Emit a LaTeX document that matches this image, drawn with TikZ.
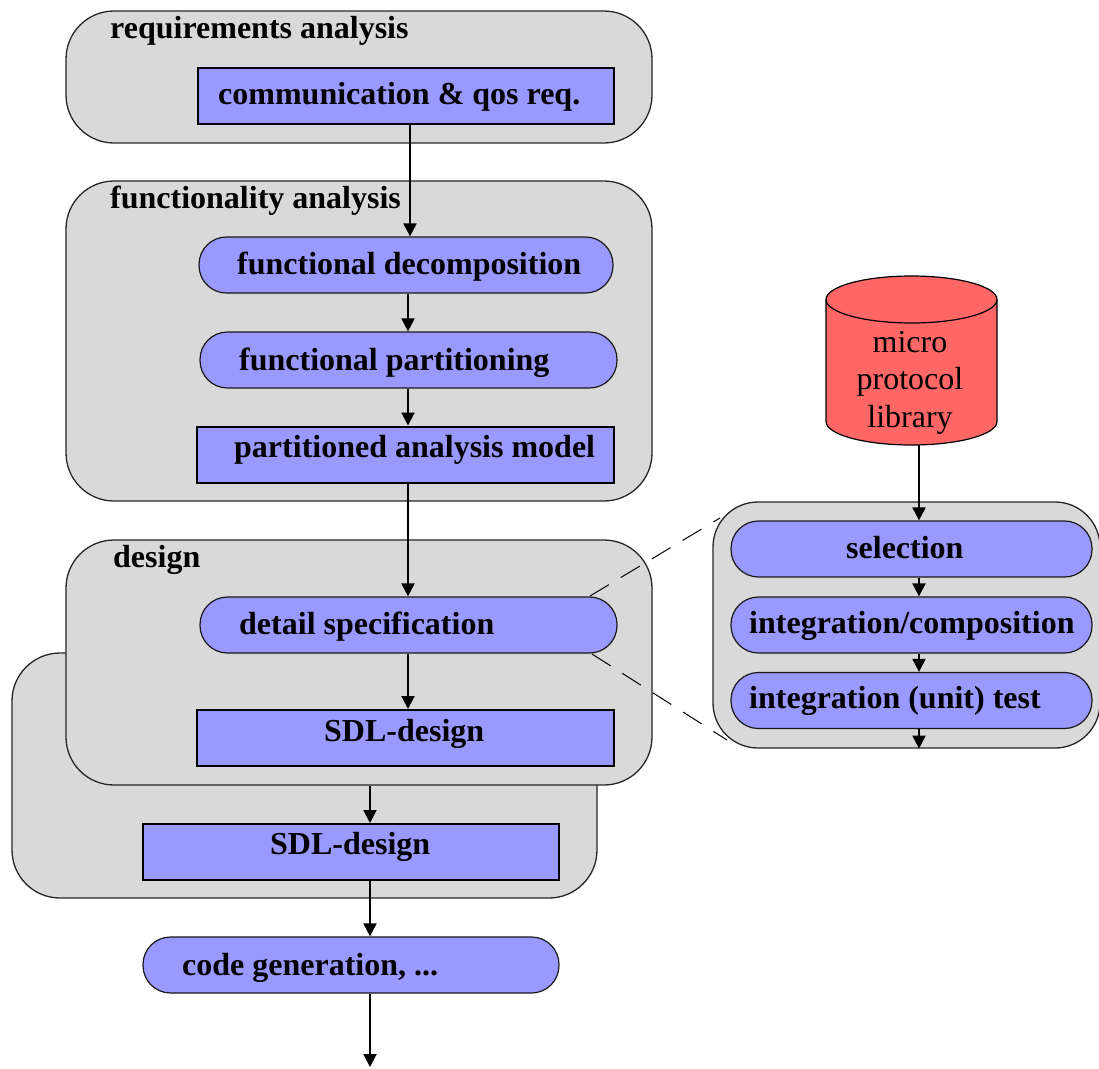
\documentclass[tikz,border=0pt]{standalone}
\usepackage{fontspec}
\setmainfont{Liberation Serif}
\usetikzlibrary{arrows.meta}
\definecolor{boxgray}{RGB}{217,217,217}
\definecolor{stepblue}{RGB}{153,153,255}
\definecolor{libred}{RGB}{255,102,102}
\begin{document}
\begin{tikzpicture}[x=1pt,y=1pt,yscale=-1,
  phase/.style={draw=black!85,line width=1.3pt,fill=boxgray,rounded corners=48pt,inner sep=0pt},
  rectstep/.style={draw=black,line width=2pt,fill=stepblue,inner sep=0pt,minimum height=56pt},
  pillstep/.style={draw=black!90,line width=1.2pt,fill=stepblue,rounded corners=27.5pt,inner sep=0pt,minimum height=56pt},
  lbl/.style={anchor=base west,inner sep=0pt,font=\fontsize{32}{37}\selectfont\bfseries},
  libtxt/.style={anchor=base,inner sep=0pt,font=\fontsize{32}{37}\selectfont},
  flow/.style={line width=2pt,-{Triangle[width=13pt,length=13pt]}},
  zoomline/.style={line width=1pt,dash pattern=on 22pt off 14pt}]
\useasboundingbox (0,0) rectangle (1099,1068);

% requirements analysis
\node[phase,minimum width=586pt,minimum height=132pt] (req) at (359,77) {};
\node[lbl] (treq) at (110,38) {requirements analysis};
\node[rectstep,minimum width=416pt] (comm) at (405.5,95.5) {};
\node[lbl] (tcomm) at (218,104) {communication \& qos req.};

% functionality analysis
\node[phase,minimum width=586pt,minimum height=320pt] (func) at (359,341) {};
\node[lbl] (tfunc) at (110,208) {functionality analysis};
\node[pillstep,minimum width=414pt] (fdec) at (406,265) {};
\node[lbl] (tfdec) at (237,274) {functional decomposition};
\node[pillstep,minimum width=417pt] (fpart) at (408.5,360) {};
\node[lbl] (tfpart) at (239,370) {functional partitioning};
\node[rectstep,minimum width=417pt] (pam) at (405.5,454.5) {};
\node[lbl] (tpam) at (234,457) {partitioned analysis model};

% design (back copy)
\node[phase,minimum width=585pt,minimum height=245pt] (back) at (304.5,775.5) {};
\node[rectstep,minimum width=416pt] (sdlb) at (351,852) {};
\node[lbl] (tsdlb) at (270,854) {SDL-design};

% design (front)
\node[phase,minimum width=586pt,minimum height=245pt] (design) at (359,662.5) {};
\node[lbl] (tdesign) at (113,567) {design};
\node[pillstep,minimum width=417pt] (detail) at (408.5,625) {};
\node[lbl] (tdetail) at (239,634) {detail specification};
\node[rectstep,minimum width=417pt] (sdlf) at (405.5,738) {};
\node[lbl] (tsdlf) at (324,741) {SDL-design};

% code generation
\node[pillstep,minimum width=416pt] (code) at (351,965) {};
\node[lbl] (tcode) at (182,975) {code generation, ...};
\coordinate (end) at (370,1067);

% micro protocol library (cylinder)
\fill[libred,draw=black,line width=1.2pt] (826,299.5) -- (826,421.5)
  arc[start angle=180,end angle=0,x radius=85.5,y radius=23.5] -- (997,299.5)
  arc[start angle=0,end angle=-180,x radius=85.5,y radius=23.5] -- cycle;
\draw[line width=1.2pt] (826,299.5) arc[start angle=180,end angle=0,x radius=85.5,y radius=23.5];
\coordinate (libbot) at (919,445);
\node[libtxt] (tl1) at (910,352) {micro};
\node[libtxt] (tl2) at (910,389) {protocol};
\node[libtxt] (tl3) at (910,427) {library};

% detail container
\node[phase,rounded corners=45pt,minimum width=387pt,minimum height=246pt] (cont) at (906.5,625) {};
\node[pillstep,minimum width=361pt] (sel) at (911.5,549) {};
\node[lbl] (tsel) at (846,558) {selection};
\node[pillstep,minimum width=361pt] (integ) at (911.5,625) {};
\node[lbl] (tinteg) at (749,633) {integration/composition};
\node[pillstep,minimum width=361pt] (unit) at (911.5,700.5) {};
\node[lbl] (tunit) at (749,708) {integration (unit) test};

% zoom lines
\coordinate (za) at (590,596);
\coordinate (zb) at (720,518);
\coordinate (zc) at (592,654);
\coordinate (zd) at (727,740);
\draw[zoomline] (za) -- (zb);
\draw[zoomline] (zc) -- (zd);

% flow arrows
\draw[flow] (comm.south -| 410,0) -- (fdec.north -| 410,0);
\draw[flow] (fdec.south -| 408,0) -- (fpart.north -| 408,0);
\draw[flow] (fpart.south -| 408,0) -- (pam.north -| 408,0);
\draw[flow] (pam.south -| 408,0) -- (detail.north -| 408,0);
\draw[flow] (detail.south -| 408,0) -- (sdlf.north -| 408,0);
\draw[flow] (design.south -| 370,0) -- (sdlb.north -| 370,0);
\draw[flow] (sdlb.south -| 370,0) -- (code.north -| 370,0);
\draw[flow] (code.south -| 370,0) -- (end);
\draw[flow] (libbot) -- (sel.north -| 919,0);
\draw[flow] (sel.south -| 919,0) -- (integ.north -| 919,0);
\draw[flow] (integ.south -| 919,0) -- (unit.north -| 919,0);
\draw[flow] (unit.south -| 919,0) -- (cont.south -| 919,0);
\end{tikzpicture}
\end{document}
